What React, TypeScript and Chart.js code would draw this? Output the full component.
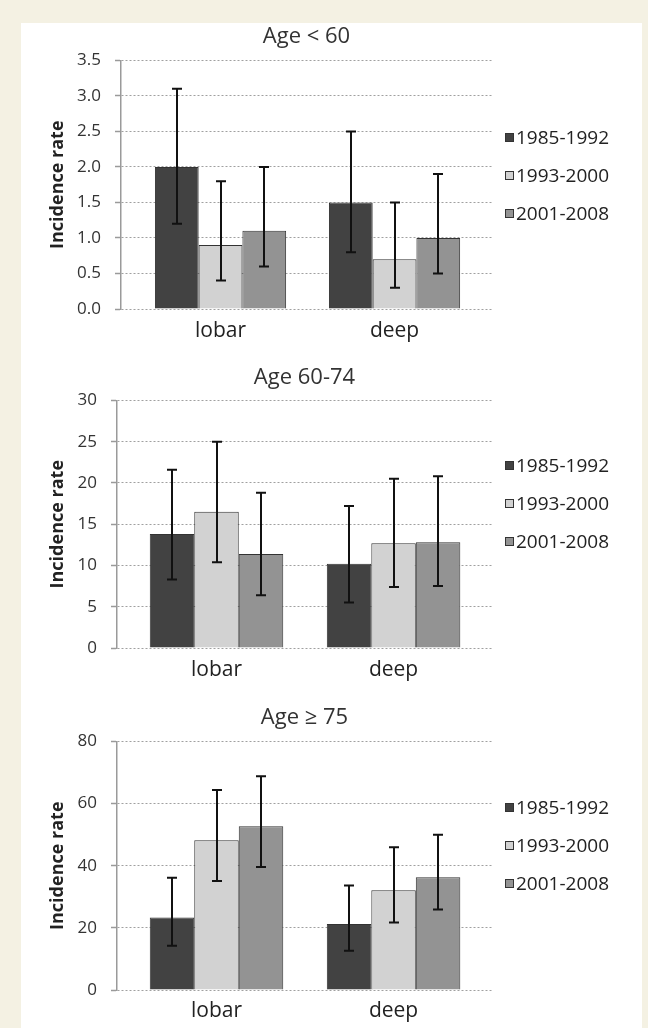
import React, { useEffect, useRef } from 'react';
import { Chart, registerables } from 'chart.js';

Chart.register(...registerables);

const FONT = '"Open Sans", "Liberation Sans", sans-serif';

// ---------- data ----------
const categories = ['lobar', 'deep'];
const periods = ['1985-1992', '1993-2000', '2001-2008'];
const periodColors = ['#424242', '#d2d2d2', '#939393'];

// Age < 60  (rows = periods, columns = categories)
const under60Rates = [[2.0, 1.5], [0.9, 0.7], [1.1, 1.0]];
const under60Lower = [[1.2, 0.8], [0.4, 0.3], [0.6, 0.5]];
const under60Upper = [[3.1, 2.5], [1.8, 1.5], [2.0, 1.9]];
const under60Axis = [3.5, 0.5]; // max, step

// Age 60-74
const mid60Rates = [[13.8, 10.2], [16.5, 12.7], [11.4, 12.8]];
const mid60Lower = [[8.3, 5.5], [10.4, 7.4], [6.4, 7.5]];
const mid60Upper = [[21.6, 17.2], [25.0, 20.5], [18.8, 20.8]];
const mid60Axis = [30, 5];

// Age >= 75
const over75Rates = [[23.3, 21.2], [48.2, 32.1], [52.7, 36.3]];
const over75Lower = [[14.2, 12.6], [35.1, 21.7], [39.6, 25.9]];
const over75Upper = [[36.1, 33.6], [64.4, 45.9], [68.8, 50.0]];
const over75Axis = [80, 20];

const panelTitles = ['Age < 60', 'Age 60-74', 'Age \u2265 75'];

// ---------- layout (positions / sizes only) ----------
const panelLayouts = [
  { top: 23, height: 322, axisWidth: 121, xMin: 0.428, xMax: 2.56, tTop: 1, tBottom: 10, xHeight: 36, labelPad: 9, legendOffset: 77, decimals: 1 },
  { top: 345, height: 340, axisWidth: 117, xMin: 0.438, xMax: 2.556, tTop: 20, tBottom: 9, xHeight: 37, labelPad: 9, legendOffset: 65, decimals: 0 },
  { top: 685, height: 343, axisWidth: 117, xMin: 0.438, xMax: 2.556, tTop: 20, tBottom: 10, xHeight: 38, labelPad: 8, legendOffset: 66, decimals: 0 },
];

const errorBarPlugin = {
  id: 'errorBars',
  afterDatasetsDraw(chart: any) {
    const { ctx } = chart;
    const yScale = chart.scales.y;
    chart.data.datasets.forEach((ds: any, i: number) => {
      const meta = chart.getDatasetMeta(i);
      meta.data.forEach((bar: any, j: number) => {
        const x = Math.round(bar.x);
        const yLo = yScale.getPixelForValue(ds.errLow[j]);
        const yHi = yScale.getPixelForValue(ds.errHigh[j]);
        const cap = 5;
        ctx.save();
        ctx.strokeStyle = '#111';
        ctx.lineWidth = 2;
        ctx.beginPath();
        ctx.moveTo(x, yLo);
        ctx.lineTo(x, yHi);
        ctx.moveTo(x - cap, yLo);
        ctx.lineTo(x + cap, yLo);
        ctx.moveTo(x - cap, yHi);
        ctx.lineTo(x + cap, yHi);
        ctx.stroke();
        ctx.restore();
      });
    });
  },
};

const sideLegendPlugin = {
  id: 'sideLegend',
  afterDraw(chart: any, _args: any, opts: any) {
    const { ctx, chartArea } = chart;
    const box = 9;
    const x = chartArea.right + opts.gap;
    chart.data.datasets.forEach((ds: any, i: number) => {
      const y = chartArea.top + opts.offset + i * opts.spacing;
      ctx.save();
      ctx.fillStyle = ds.backgroundColor;
      ctx.fillRect(x, Math.round(y - box / 2), box, box);
      ctx.strokeStyle = '#333';
      ctx.lineWidth = 1;
      ctx.strokeRect(x + 0.5, Math.round(y - box / 2) + 0.5, box - 1, box - 1);
      ctx.fillStyle = '#222';
      ctx.font = `19px ${FONT}`;
      ctx.textBaseline = 'middle';
      ctx.textAlign = 'left';
      ctx.fillText(ds.label, x + box + 2, y + 1);
      ctx.restore();
    });
  },
};

type PanelProps = {
  idx: number;
  rates: number[][];
  lower: number[][];
  upper: number[][];
  axis: number[];
};

function Panel({ idx, rates, lower, upper, axis }: PanelProps) {
  const ref = useRef<HTMLCanvasElement>(null);
  const L = panelLayouts[idx];
  useEffect(() => {
    const datasets = periods.map((p, i) => ({
      label: p,
      data: categories.map((_, j) => ({ x: j + 1, y: rates[i][j] })),
      errLow: lower[i],
      errHigh: upper[i],
      backgroundColor: periodColors[i],
      borderColor: '#333',
      borderWidth: 1,
      barPercentage: 1.0,
      categoryPercentage: 0.754,
    }));
    const chart = new Chart(ref.current as HTMLCanvasElement, {
      type: 'bar',
      data: { datasets } as any,
      options: {
        responsive: false,
        animation: false,
        events: [],
        layout: { padding: { left: 0, right: 648 - 492, top: 0, bottom: 0 } },
        scales: {
          x: {
            type: 'linear',
            offset: false,
            min: L.xMin,
            max: L.xMax,
            grid: { display: false, drawTicks: false },
            border: { display: false },
            afterBuildTicks: (scale: any) => {
              scale.ticks = categories.map((_, j) => ({ value: j + 1 }));
            },
            afterFit: (scale: any) => {
              scale.height = L.xHeight;
            },
            ticks: {
              autoSkip: false,
              maxRotation: 0,
              padding: L.labelPad,
              color: '#222',
              font: { family: FONT, size: 21 },
              callback: (v: any) => categories[Number(v) - 1] ?? '',
            },
          },
          y: {
            min: 0,
            max: axis[0],
            afterFit: (scale: any) => {
              scale.width = L.axisWidth;
            },
            ticks: {
              stepSize: axis[1],
              padding: 14,
              color: '#333',
              font: { family: FONT, size: 17 },
              callback: (v: any) => Number(v).toFixed(L.decimals),
            },
            grid: {
              color: '#a0a0a0',
              lineWidth: 1,
              drawTicks: true,
              tickLength: 6,
              tickColor: '#9a9a9a',
              tickWidth: 1.5,
            },
            border: { display: true, color: '#9a9a9a', width: 1.5, dash: [2, 2] },
            title: {
              display: true,
              text: 'Incidence rate',
              color: '#222',
              font: { family: FONT, size: 18, weight: 'bold' },
              padding: { top: 47, bottom: 0 },
            },
          },
        },
        plugins: {
          legend: { display: false },
          tooltip: { enabled: false },
          title: {
            display: true,
            text: panelTitles[idx],
            fullSize: false,
            color: '#333',
            font: { family: FONT, size: 22, weight: 'normal', lineHeight: 1.2 },
            padding: { top: L.tTop, bottom: L.tBottom },
          },
          sideLegend: { gap: 13, offset: L.legendOffset, spacing: 38 },
        } as any,
      },
      plugins: [errorBarPlugin, sideLegendPlugin],
    } as any);
    return () => chart.destroy();
  }, []);
  return (
    <canvas
      ref={ref}
      width={648}
      height={L.height}
      style={{ position: 'absolute', left: 0, top: L.top, width: 648, height: L.height }}
    />
  );
}

export default function App() {
  return (
    <div style={{ position: 'absolute', left: 0, top: 0, width: 648, height: 1028, background: '#f4f1e3', overflow: 'hidden' }}>
      <div style={{ position: 'absolute', left: 21, top: 23, width: 621, height: 1005, background: '#ffffff' }} />
      <Panel idx={0} rates={under60Rates} lower={under60Lower} upper={under60Upper} axis={under60Axis} />
      <Panel idx={1} rates={mid60Rates} lower={mid60Lower} upper={mid60Upper} axis={mid60Axis} />
      <Panel idx={2} rates={over75Rates} lower={over75Lower} upper={over75Upper} axis={over75Axis} />
    </div>
  );
}
